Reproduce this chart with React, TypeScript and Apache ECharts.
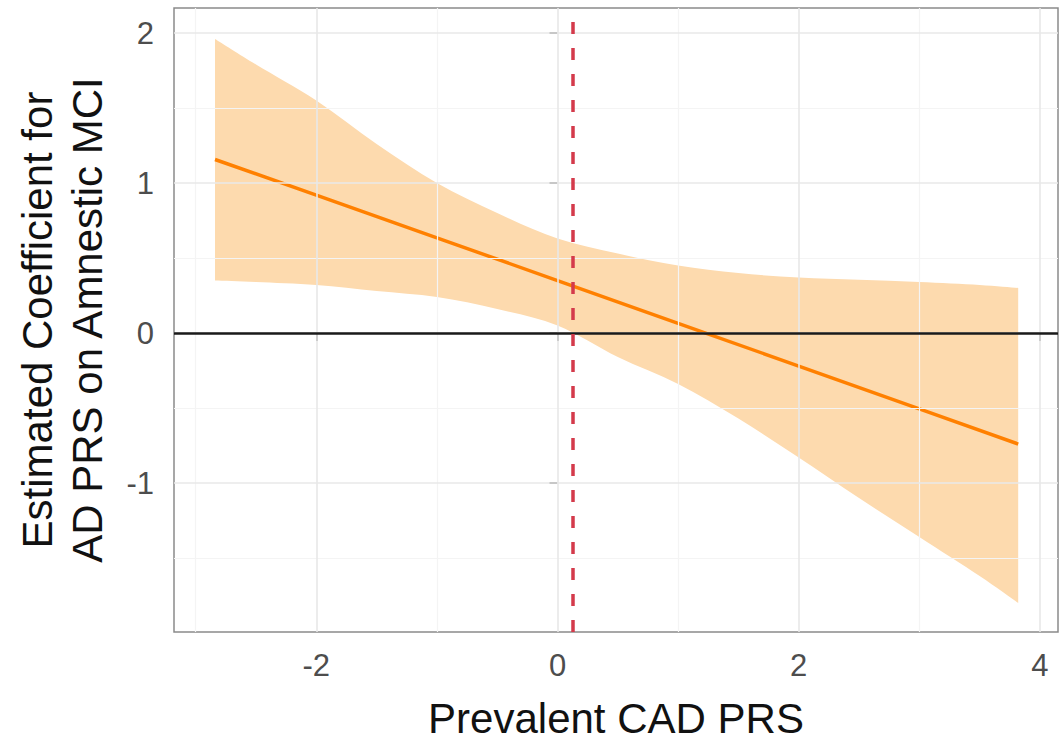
import React, { useEffect, useRef } from "react";
import * as echarts from "echarts";

// Ribbon (confidence band)
const ribbonX = [-2.84, -2.5, -2, -1.5, -1, -0.5, 0, 0.5, 1, 1.5, 2, 2.5, 3, 3.5, 3.82];
const ribbonUpper = [1.96, 1.79, 1.55, 1.26, 1.0, 0.8, 0.63, 0.53, 0.45, 0.4, 0.37, 0.355, 0.34, 0.32, 0.3];
const ribbonLower = [0.35, 0.34, 0.32, 0.28, 0.24, 0.16, 0.05, -0.16, -0.34, -0.57, -0.83, -1.1, -1.36, -1.62, -1.8];

// Fitted line
const fitX = [-2.84, -2, -1, 0, 1, 2, 3, 3.82];
const fitY = [1.157, 0.92, 0.635, 0.35, 0.065, -0.22, -0.505, -0.74];

// Ticks and grid
const xTicks = [-2, 0, 2, 4];
const xMinor = [-3, -1, 1, 3];
const yTicks = [-1, 0, 1, 2];
const yMinor = [-1.5, -0.5, 0.5, 1.5];
const refX = 0.13;

const xTitle = "Prevalent CAD PRS";
const yTitle = "Estimated Coefficient for\nAD PRS on Amnestic MCI";

function smoothSegments(pts: number[][]): string {
  // Catmull-Rom spline through the points, as cubic bezier segments (no initial move)
  let d = "";
  for (let i = 0; i < pts.length - 1; i++) {
    const p0 = pts[Math.max(0, i - 1)];
    const p1 = pts[i];
    const p2 = pts[i + 1];
    const p3 = pts[Math.min(pts.length - 1, i + 2)];
    const c1x = p1[0] + (p2[0] - p0[0]) / 6;
    const c1y = p1[1] + (p2[1] - p0[1]) / 6;
    const c2x = p2[0] - (p3[0] - p1[0]) / 6;
    const c2y = p2[1] - (p3[1] - p1[1]) / 6;
    d += ` C${c1x},${c1y} ${c2x},${c2y} ${p2[0]},${p2[1]}`;
  }
  return d;
}

export default function App() {
  const ref = useRef<HTMLDivElement>(null);

  useEffect(() => {
    if (!ref.current) return;
    const chart = echarts.init(ref.current, undefined, { renderer: "svg" });
    const font = "'Liberation Sans', Arial, Helvetica, sans-serif";

    const gridLines: any[] = [];
    xMinor.forEach((v) => gridLines.push({ xAxis: v, lineStyle: { color: "#F4F4F4", width: 1.2, type: "solid" } }));
    yMinor.forEach((v) => gridLines.push({ yAxis: v, lineStyle: { color: "#F4F4F4", width: 1.2, type: "solid" } }));
    xTicks.forEach((v) => gridLines.push({ xAxis: v, lineStyle: { color: "#E8E8E8", width: 1.6, type: "solid" } }));
    yTicks.forEach((v) => gridLines.push({ yAxis: v, lineStyle: { color: "#E8E8E8", width: 1.6, type: "solid" } }));

    const option: any = {
      animation: false,
      backgroundColor: "#ffffff",
      grid: {
        left: 174,
        right: 3,
        top: 8,
        bottom: 109,
        show: true,
        borderColor: "#8a8a8a",
        borderWidth: 1.5,
        backgroundColor: "transparent",
      },
      xAxis: {
        type: "value",
        min: -3.18,
        max: 4.15,
        axisLine: { show: false },
        splitLine: { show: false },
        axisTick: {
          show: true,
          customValues: xTicks,
          length: 8,
          lineStyle: { color: "#333333", width: 1.5 },
        },
        axisLabel: {
          customValues: xTicks,
          fontSize: 31,
          color: "#4D4D4D",
          margin: 18,
          fontFamily: font,
        },
      },
      yAxis: {
        type: "value",
        min: -1.993,
        max: 2.167,
        axisLine: { show: false },
        splitLine: { show: false },
        axisTick: {
          show: true,
          customValues: yTicks,
          length: 8,
          lineStyle: { color: "#333333", width: 1.5 },
        },
        axisLabel: {
          customValues: yTicks,
          fontSize: 31,
          color: "#4D4D4D",
          margin: 20,
          fontFamily: font,
        },
      },
      graphic: [
        {
          type: "text",
          x: 616,
          y: 718,
          style: {
            text: xTitle,
            font: `42px ${font}`,
            lineHeight: 42,
            fill: "#111111",
            align: "center",
            verticalAlign: "middle",
          },
        },
        {
          type: "text",
          x: 62,
          y: 320,
          rotation: Math.PI / 2,
          style: {
            text: yTitle,
            font: `42px ${font}`,
            fill: "#111111",
            align: "center",
            verticalAlign: "middle",
            lineHeight: 50,
          },
        },
      ],
      series: [
        {
          name: "grid",
          type: "line",
          data: [],
          z: 0,
          silent: true,
          markLine: {
            silent: true,
            symbol: ["none", "none"],
            label: { show: false },
            data: gridLines,
          },
        },
        {
          name: "ribbon",
          type: "custom",
          z: 1,
          silent: true,
          data: ribbonX.map((x, i) => [x, ribbonLower[i], ribbonUpper[i]]),
          encode: { x: 0, y: [1, 2] },
          renderItem: (params: any, api: any) => {
            if (params.dataIndex !== 0) return null;
            const up: number[][] = [];
            const lo: number[][] = [];
            for (let i = 0; i < ribbonX.length; i++) up.push(api.coord([ribbonX[i], ribbonUpper[i]]));
            for (let i = ribbonX.length - 1; i >= 0; i--) lo.push(api.coord([ribbonX[i], ribbonLower[i]]));
            const d =
              `M${up[0][0]},${up[0][1]}` +
              smoothSegments(up) +
              ` L${lo[0][0]},${lo[0][1]}` +
              smoothSegments(lo) +
              " Z";
            return {
              type: "path",
              shape: { pathData: d },
              style: { fill: "#FDDAAE", stroke: "none" },
            };
          },
        },
        {
          name: "zero",
          type: "line",
          data: [],
          z: 2,
          silent: true,
          markLine: {
            silent: true,
            symbol: ["none", "none"],
            label: { show: false },
            data: [{ yAxis: 0, lineStyle: { color: "#1a1a1a", width: 2.5, type: "solid" } }],
          },
        },
        {
          name: "fit",
          type: "line",
          z: 3,
          data: fitX.map((x, i) => [x, fitY[i]]),
          showSymbol: false,
          symbol: "none",
          lineStyle: { color: "#FF8000", width: 3.5 },
        },
        {
          name: "ref",
          type: "line",
          data: [],
          z: 4,
          silent: true,
          markLine: {
            silent: true,
            symbol: ["none", "none"],
            label: { show: false },
            data: [{ xAxis: refX, lineStyle: { color: "#D43A4B", width: 3.5, type: [12, 14] } }],
          },
        },
      ],
    };

    chart.setOption(option);
    return () => chart.dispose();
  }, []);

  return (
    <div
      ref={ref}
      style={{ position: "absolute", left: 0, top: 0, width: 1061, height: 741 }}
    />
  );
}
